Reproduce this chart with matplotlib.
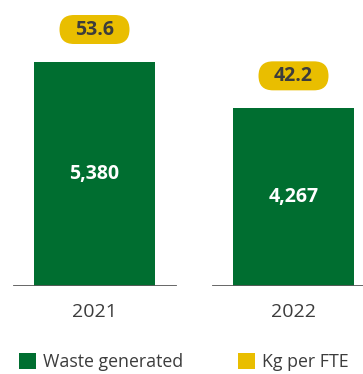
import matplotlib.pyplot as plt
from matplotlib.patches import FancyBboxPatch, Patch
from matplotlib.lines import Line2D

plt.rcParams['font.family'] = ['Open Sans', 'DejaVu Sans']

years = ['2021', '2022']
waste = [5380, 4267]
kg_per_fte = [53.6, 42.2]
labels = ['Waste generated', 'Kg per FTE']

green = '#006e30'
yellow = '#e9be00'
txt = '#3c3c3c'

W, H = 363, 374
fig = plt.figure(figsize=(W / 100, H / 100), dpi=100)
ax = fig.add_axes([0, 88 / H, 1, 1 - 88 / H])

# pixel scale helpers
px_x = 1 / 199.0
px_y = 5380 / 224.0
ax.set_xlim(-94.5 * px_x, (W - 94.5) * px_x)
ax.set_ylim(0, 286 * px_y)
ax.axis('off')

x = list(range(len(years)))
ax.bar(x, waste, width=121 * px_x, color=green, zorder=2)

for i, v in enumerate(waste):
    # grey baseline under each bar
    ax.add_line(Line2D([i - 81 * px_x, i + 81 * px_x], [0, 0], color='#5a5a5a', lw=1.3, zorder=3))
    ax.text(i, v / 2, f'{v:,}', color='white', ha='center', va='center',
            fontsize=14, fontweight='bold', zorder=4)
    # yellow pill badge
    cy = v + 32.5 * px_y
    pw, ph = 70 * px_x, 29 * px_y
    pill = FancyBboxPatch((i - pw / 2, cy - ph / 2), pw, ph,
                          boxstyle=f'round,pad=0,rounding_size={14.5 * px_x}',
                          mutation_aspect=px_y / px_x, fc=yellow, ec='none', zorder=4)
    ax.add_patch(pill)
    ax.text(i, cy, f'{kg_per_fte[i]}', color=txt, ha='center', va='center',
            fontsize=14, fontweight='bold', zorder=5)
    ax.text(i, -26 * px_y, years[i], color=txt, ha='center', va='center', fontsize=14)

handles = [Patch(fc=green, ec='none'), Patch(fc=yellow, ec='none')]
fig.legend(handles, labels, loc='center left', bbox_to_anchor=(12 / W, 1 - 362 / H),
           ncol=2, frameon=False, fontsize=12.8, labelcolor=txt,
           handlelength=0.95, handleheight=0.95, handletextpad=0.4, columnspacing=3.1,
           borderaxespad=0)

fig.savefig('out.png', dpi=100)
